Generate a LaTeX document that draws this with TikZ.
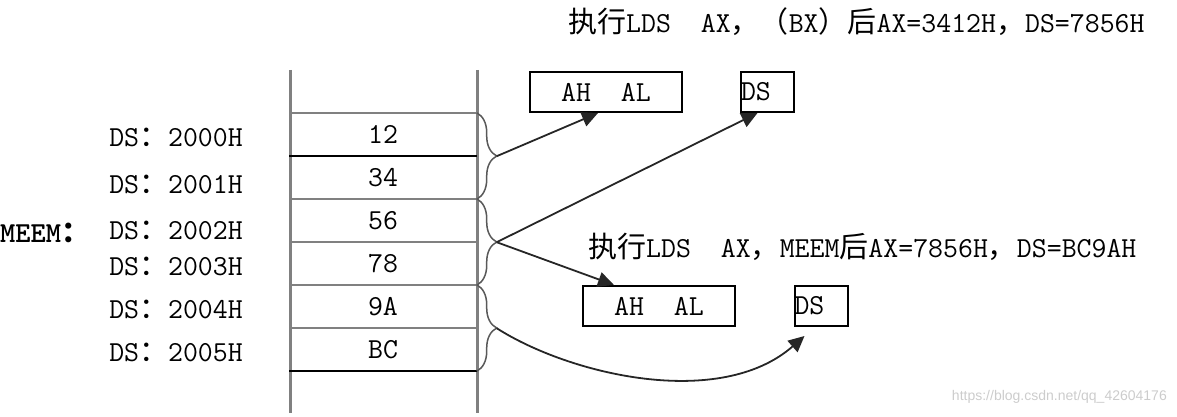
\documentclass[tikz,border=0pt]{standalone}
\usepackage{fontspec}
\newfontfamily\cjk{Noto Sans CJK SC}
\newfontfamily\wmfont{Liberation Sans}
\usetikzlibrary{positioning,arrows.meta,decorations.pathreplacing}

\tikzset{
  cell/.style={minimum width=187pt,minimum height=43pt,inner sep=0pt},
  addr/.style={anchor=east,inner sep=0pt},
  reg/.style={draw,line width=2pt,minimum height=40pt,inner sep=0pt},
  memline/.style={line width=3pt,draw=gray},
  link/.style={line width=1.8pt,draw=black!85,-{Triangle[length=16pt,width=15pt]}},
  grp/.style={line width=1.5pt,draw=gray!70!black,decorate,decoration={brace,amplitude=20pt}},
}

\begin{document}
\begin{tikzpicture}[x=1pt,y=-1pt,node distance=43pt,on grid,
  font=\ttfamily\fontsize{29pt}{32pt}\selectfont]
   \useasboundingbox (0,0) rectangle (1177,417);

   % memory cells
   \node[cell] (m0) at (383,134.5) {12};
   \node[cell] (m1) [below=of m0] {34};
   \node[cell] (m2) [below=of m1] {56};
   \node[cell] (m3) [below=of m2] {78};
   \node[cell] (m4) [below=of m3] {9A};
   \node[cell] (m5) [below=of m4] {BC};
   \draw[memline] (290,70) -- (290,413);
   \draw[memline] (477,70) -- (477,413);
   \draw[line width=2.5pt,gray] (m0.north west) -- (m0.north east);
   \foreach \m/\c in {m0/black,m1/gray,m2/gray,m3/gray,m4/gray,m5/black}
     \draw[line width=2.5pt,\c] (\m.south west) -- (\m.south east);

   % addresses
   \node[addr] (a0) at (243,137) {DS{\cjk ：}2000H};
   \node[addr] (a1) at (243,184) {DS{\cjk ：}2001H};
   \node[addr] (a2) at (243,230) {DS{\cjk ：}2002H};
   \node[addr] (a3) at (243,266) {DS{\cjk ：}2003H};
   \node[addr] (a4) at (243,309) {DS{\cjk ：}2004H};
   \node[addr] (a5) at (243,352) {DS{\cjk ：}2005H};
   \node[anchor=west,inner sep=0pt] (meem) at (0,233) {\bfseries MEEM{\cjk ：}};

   % word braces
   \draw[grp] (m0.north east) -- (m1.south east);
   \draw[grp] (m2.north east) -- (m3.south east);
   \draw[grp] (m4.north east) -- (m5.south east);
   \coordinate (t1) at ([xshift=20pt]m0.south east);
   \coordinate (t2) at ([xshift=20pt]m2.south east);
   \coordinate (t3) at ([xshift=20pt]m4.south east);

   % registers
   \node[anchor=west,inner sep=0pt] (res1) at (568,22)
     {{\cjk 执行}LDS~~AX{\cjk ，（}BX{\cjk ）后}AX=3412H{\cjk ，}DS=7856H};
   \node[reg,minimum width=152pt] (ax1) at (606,92) {AH~~AL};
   \node[reg] (ds1) at (767.5,92) {\makebox[53pt][l]{DS}};
   \node[anchor=west,inner sep=0pt] (res2) at (588,247)
     {{\cjk 执行}LDS~~AX{\cjk ，}MEEM{\cjk 后}AX=7856H{\cjk ，}DS=BC9AH};
   \node[reg,minimum width=152pt] (ax2) at (659,306) {AH~~AL};
   \node[reg] (ds2) at (821,306) {\makebox[53pt][l]{DS}};

   \path
    (t1) edge[link] ([xshift=-8pt]ax1.south)
    (t2) edge[link] ([xshift=-10pt]ds1.south)
         edge[link] ([xshift=-45pt]ax2.north);
   \draw[link] (t3) .. controls (570,375) and (720,410) .. ([shift={(11pt,-9pt)}]ds2.south west);

   \node[anchor=east,inner sep=0pt,text=black!20,font=\wmfont\fontsize{14pt}{16pt}\selectfont]
     (wm) at (1167,397) {https://blog.csdn.net/qq\_42604176};
\end{tikzpicture}
\end{document}
